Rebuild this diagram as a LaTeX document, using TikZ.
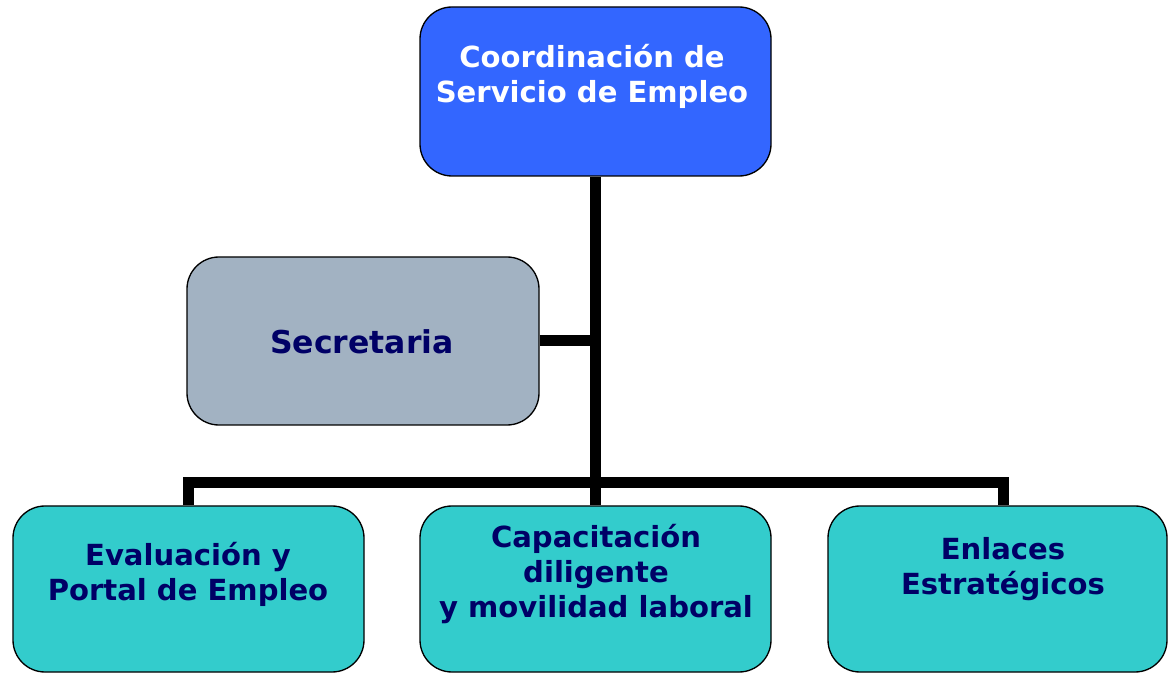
\documentclass[tikz,border=0pt]{standalone}
\usepackage{fontspec}
\setmainfont{DejaVu Sans}
\usetikzlibrary{fit}
\definecolor{topblue}{HTML}{3366FF}
\definecolor{secgray}{HTML}{A2B2C2}
\definecolor{tealbox}{HTML}{33CCCC}
\definecolor{navy}{HTML}{000066}
\tikzset{
  box/.style={draw=black, line width=1pt, rounded corners=24pt, inner sep=0pt},
  lbl/.style={align=center, font=\bfseries\fontsize{21.8}{26.3}\selectfont, text=navy, inner sep=0pt},
  conn/.style={draw=black, line width=8.25pt, line join=miter}
}
\begin{document}
\begin{tikzpicture}[x=0.75pt, y=-0.75pt]
\useasboundingbox (0,0) rectangle (1168,673);
\clip (0,0) rectangle (1168,673);
% boxes
\node[box, fill=topblue, fit={(420,7) (771,176)}] (top) {};
\node[box, fill=secgray, fit={(187,257) (539,425)}] (sec) {};
\node[box, fill=tealbox, fit={(13,506) (364,672)}] (left) {};
\node[box, fill=tealbox, fit={(420,506) (771,672)}] (mid) {};
\node[box, fill=tealbox, fit={(828,506) (1167,672)}] (right) {};
% connectors
\coordinate (bl) at (188,483);
\coordinate (br) at (1003,483);
\draw[conn] (top.south) -- (mid.north);
\draw[conn] (sec.east) -- (sec.east -| top.south);
\draw[conn] (left.north -| bl) -- (bl) -- (br) -- (right.north -| br);
% texts
\node[lbl, text=white] (ttop) at (592,76) {Coordinación de\\Servicio de Empleo};
\node[lbl, font=\bfseries\fontsize{23.6}{28}\selectfont] (tsec) at (362,342) {Secretaria};
\node[lbl] (tleft) at (188,574) {Evaluación y\\Portal de Empleo};
\node[lbl] (tmid) at (596,574) {Capacitación\\diligente\\y movilidad laboral};
\node[lbl] (tright) at (1003,569) {Enlaces\\Estratégicos};
\end{tikzpicture}
\end{document}
